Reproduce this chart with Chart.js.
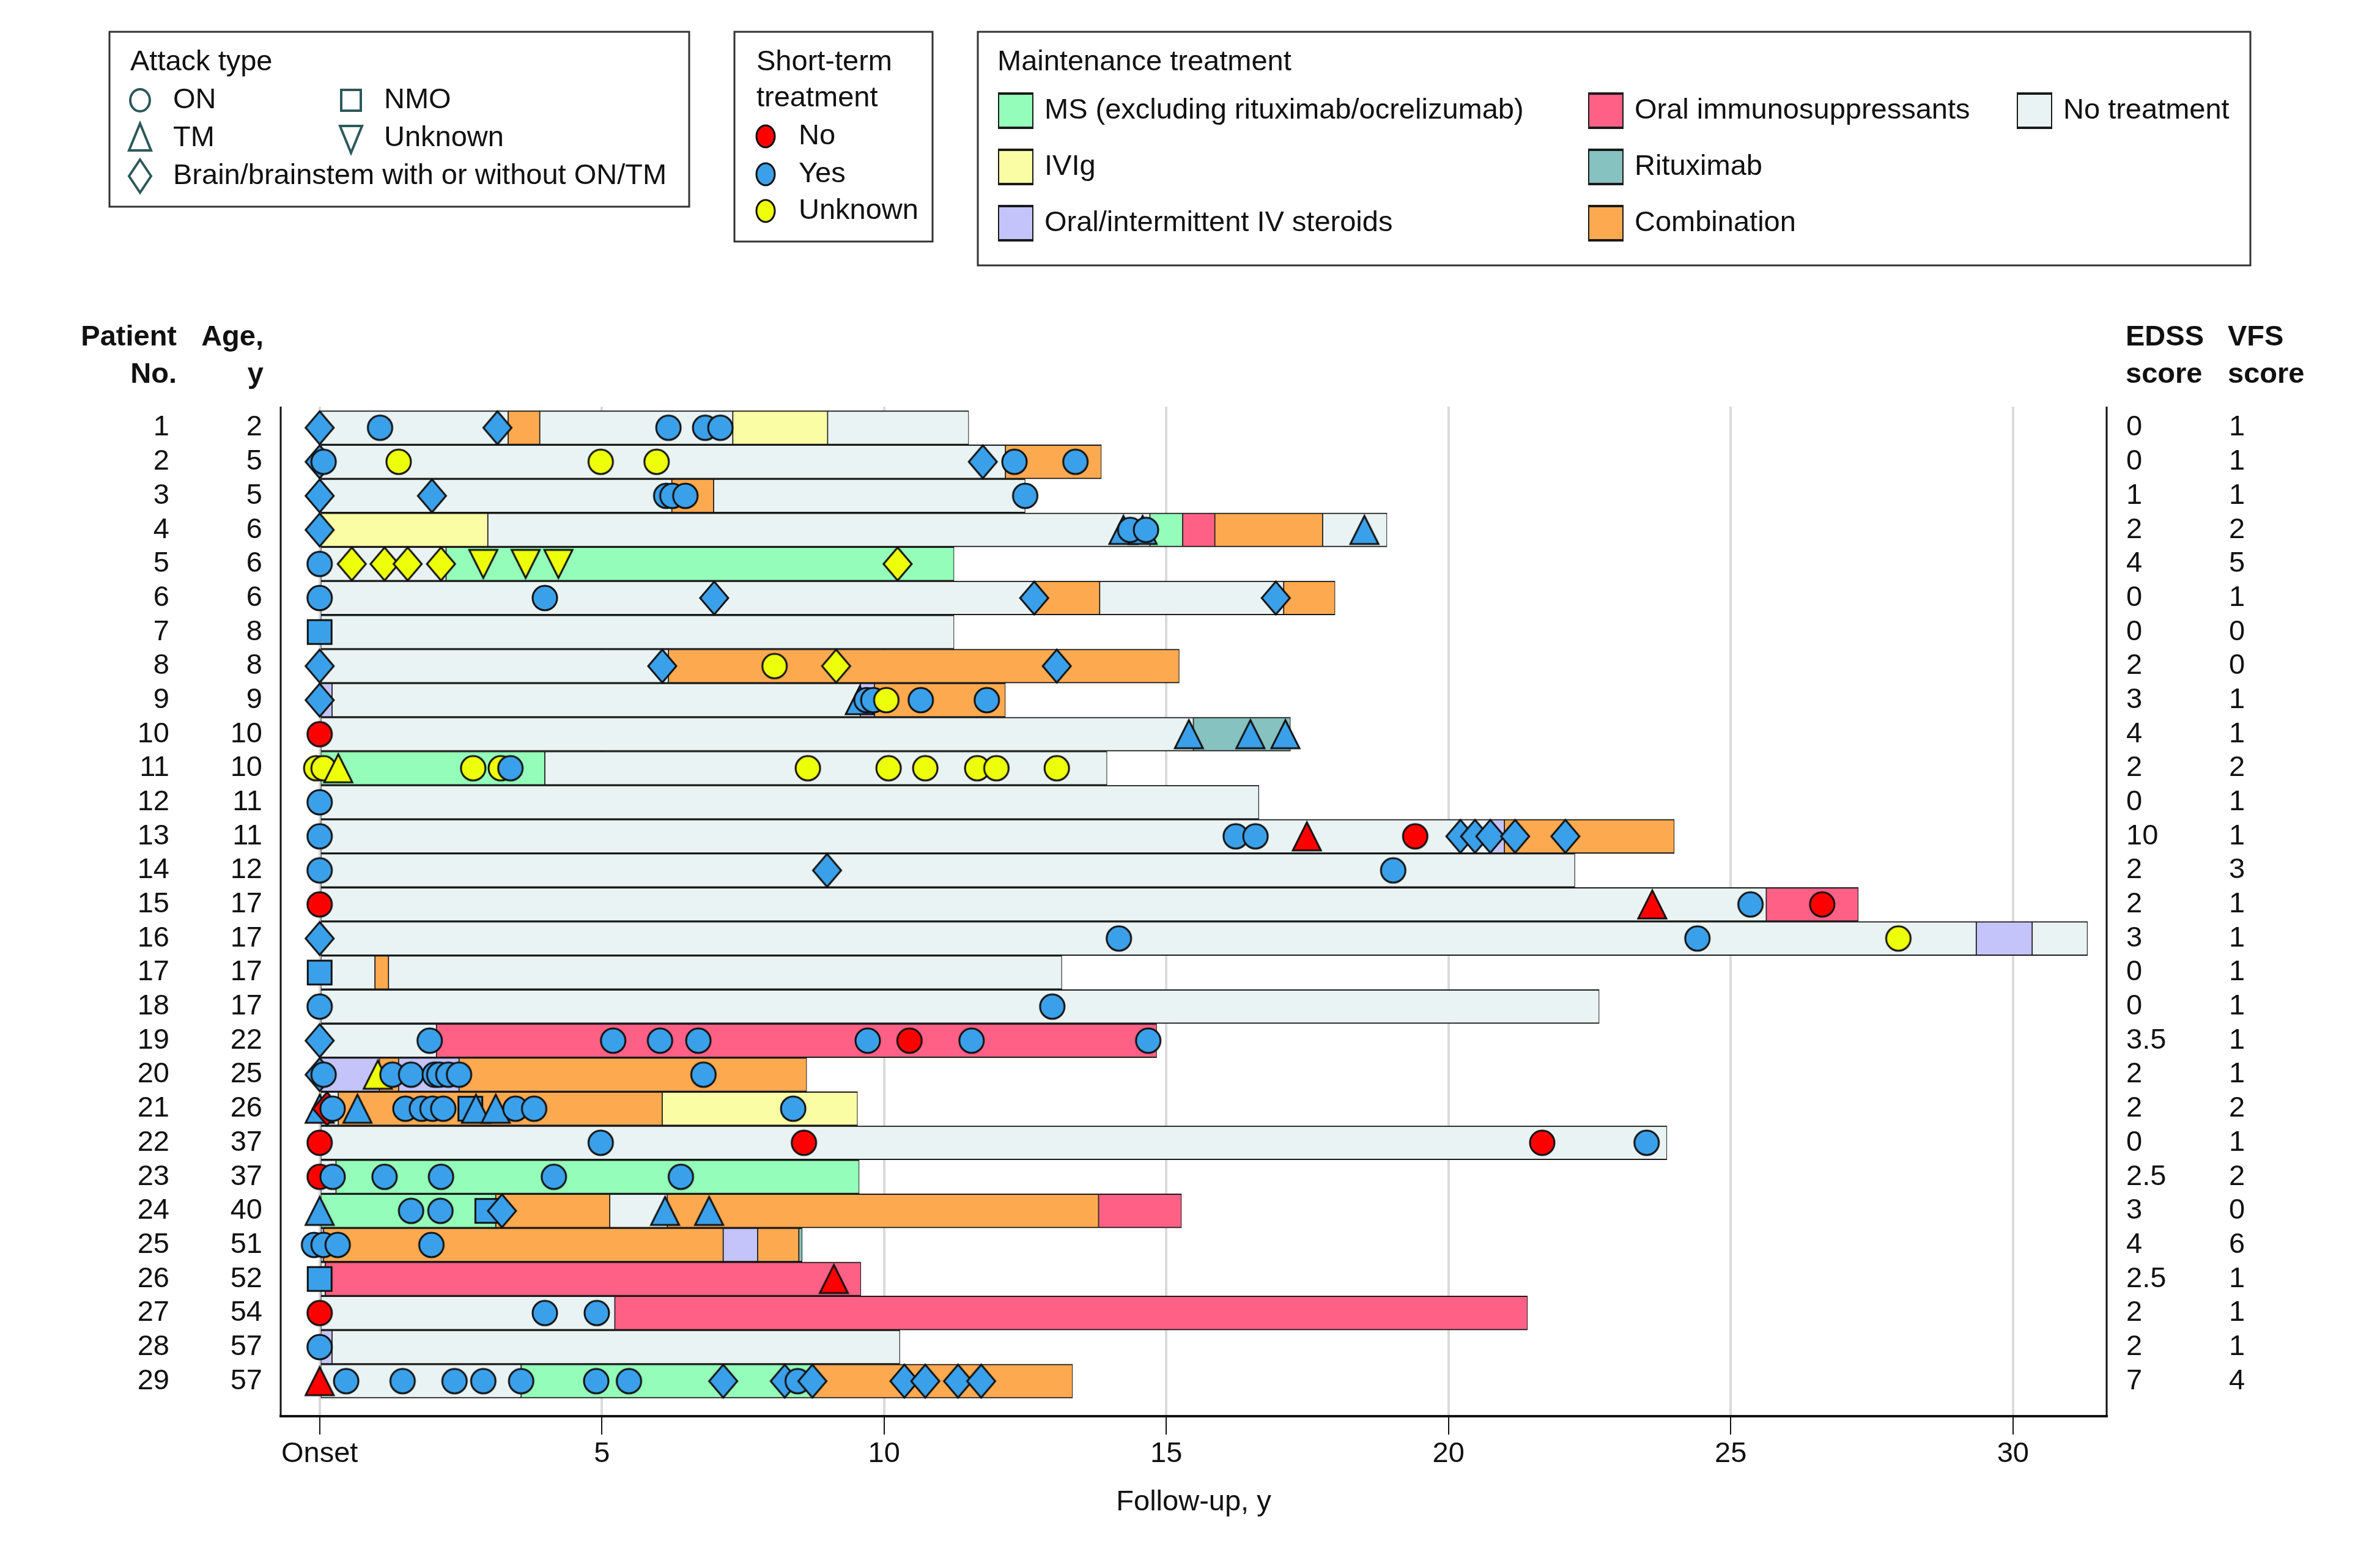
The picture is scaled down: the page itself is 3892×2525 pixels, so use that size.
<!DOCTYPE html>
<html>
<head>
<meta charset="utf-8">
<title>Attacks and treatment timeline</title>
<script src="https://cdn.jsdelivr.net/npm/chart.js@4.4.1/dist/chart.umd.min.js"></script>
<style>
  html, body { margin: 0; padding: 0; background: #fff; }
  #timeline { display: block; width: 3892px; height: 2525px; }
</style>
</head>
<body>
<canvas id="timeline" width="3892" height="2525"></canvas>
<script>
// rows of the timeline, top to bottom
const patientNo = [1, 2, 3, 4, 5, 6, 7, 8, 9, 10, 11, 12, 13, 14, 15, 16, 17, 18, 19, 20, 21, 22, 23, 24, 25, 26, 27, 28, 29];
const ageYears = [2, 5, 5, 6, 6, 6, 8, 8, 9, 10, 10, 11, 11, 12, 17, 17, 17, 17, 22, 25, 26, 37, 37, 40, 51, 52, 54, 57, 57];
const edssScore = ['0', '0', '1', '2', '4', '0', '0', '2', '3', '4', '2', '0', '10', '2', '2', '3', '0', '0', '3.5', '2', '2', '0', '2.5', '3', '4', '2.5', '2', '2', '7'];
const vfsScore = [1, 1, 1, 2, 5, 1, 0, 0, 1, 1, 2, 1, 1, 3, 1, 1, 1, 1, 1, 1, 2, 1, 2, 0, 6, 1, 1, 1, 4];

// follow-up axis ticks (years since onset)
const followUpTicks = [0, 5, 10, 15, 20, 25, 30];

// maintenance treatment periods: [patient, from, to, treatment]
const treatmentPeriods = [
  [1, 0, 3.34, 'NONE'], [1, 3.34, 3.90, 'COMBO'], [1, 3.90, 7.32, 'NONE'], [1, 7.32, 9.0, 'IVIG'], [1, 9.0, 11.5, 'NONE'],
  [2, 0, 12.15, 'NONE'], [2, 12.15, 13.85, 'COMBO'],
  [3, 0, 6.24, 'NONE'], [3, 6.24, 6.98, 'COMBO'], [3, 6.98, 12.5, 'NONE'],
  [4, 0, 2.98, 'IVIG'], [4, 2.98, 14.71, 'NONE'], [4, 14.71, 15.29, 'MS'], [4, 15.29, 15.86, 'ORAL'], [4, 15.86, 17.77, 'COMBO'], [4, 17.77, 18.91, 'NONE'],
  [5, 0, 2.24, 'NONE'], [5, 2.24, 11.24, 'MS'],
  [6, 0, 12.66, 'NONE'], [6, 12.66, 13.82, 'COMBO'], [6, 13.82, 17.08, 'NONE'], [6, 17.08, 17.99, 'COMBO'],
  [7, 0, 11.24, 'NONE'],
  [8, 0, 6.18, 'NONE'], [8, 6.18, 15.23, 'COMBO'],
  [9, 0, 0.22, 'STER'], [9, 0.22, 9.58, 'NONE'], [9, 9.58, 9.83, 'STER'], [9, 9.83, 12.15, 'COMBO'],
  [10, 0, 15.48, 'NONE'], [10, 15.48, 17.2, 'RITUX'],
  [11, 0, 3.99, 'MS'], [11, 3.99, 13.95, 'NONE'],
  [12, 0, 16.64, 'NONE'],
  [13, 0, 20.75, 'NONE'], [13, 20.75, 20.99, 'STER'], [13, 20.99, 24.0, 'COMBO'],
  [14, 0, 22.24, 'NONE'],
  [15, 0, 25.63, 'NONE'], [15, 25.63, 27.26, 'ORAL'],
  [16, 0, 29.35, 'NONE'], [16, 29.35, 30.34, 'STER'], [16, 30.34, 31.32, 'NONE'],
  [17, 0, 0.98, 'NONE'], [17, 0.98, 1.22, 'COMBO'], [17, 1.22, 13.15, 'NONE'],
  [18, 0, 22.67, 'NONE'],
  [19, 0, 2.07, 'NONE'], [19, 2.07, 14.83, 'ORAL'],
  [20, 0, 1.06, 'STER'], [20, 1.06, 1.40, 'COMBO'], [20, 1.40, 2.47, 'STER'], [20, 2.47, 8.63, 'COMBO'],
  [21, 0, 0.33, 'NONE'], [21, 0.33, 6.07, 'COMBO'], [21, 6.07, 9.53, 'IVIG'],
  [22, 0, 23.87, 'NONE'],
  [23, 0, 0.29, 'NONE'], [23, 0.29, 9.56, 'MS'],
  [24, 0, 3.12, 'MS'], [24, 3.12, 5.14, 'COMBO'], [24, 5.14, 6.16, 'NONE'], [24, 6.16, 13.8, 'COMBO'], [24, 13.8, 15.27, 'ORAL'],
  [25, 0, 0.07, 'STER'], [25, 0.07, 7.15, 'COMBO'], [25, 7.15, 7.76, 'STER'], [25, 7.76, 8.49, 'COMBO'], [25, 8.49, 8.55, 'RITUX'],
  [26, 0, 0.1, 'NONE'], [26, 0.1, 9.59, 'ORAL'],
  [27, 0, 5.23, 'NONE'], [27, 5.23, 21.4, 'ORAL'],
  [28, 0, 0.22, 'STER'], [28, 0.22, 10.28, 'NONE'],
  [29, 0, 3.57, 'NONE'], [29, 3.57, 8.73, 'MS'], [29, 8.73, 13.34, 'COMBO']
];

// attacks: [patient, years since onset, attack type, short-term treatment]
// attack type: ON, TM, NMO, UNK (unknown), BR (brain/brainstem)
// short-term treatment: N (no), Y (yes), U (unknown)
const attacks = [
  [1, 0, 'BR', 'Y'], [1, 1.07, 'ON', 'Y'], [1, 3.15, 'BR', 'Y'], [1, 6.18, 'ON', 'Y'], [1, 6.83, 'ON', 'Y'], [1, 7.1, 'ON', 'Y'],
  [2, 0, 'BR', 'Y'], [2, 0.07, 'ON', 'Y'], [2, 1.4, 'ON', 'U'], [2, 4.98, 'ON', 'U'], [2, 5.97, 'ON', 'U'], [2, 11.75, 'BR', 'Y'], [2, 12.31, 'ON', 'Y'], [2, 13.39, 'ON', 'Y'],
  [3, 0, 'BR', 'Y'], [3, 1.99, 'BR', 'Y'], [3, 6.14, 'ON', 'Y'], [3, 6.25, 'ON', 'Y'], [3, 6.48, 'ON', 'Y'], [3, 12.5, 'ON', 'Y'],
  [4, 0, 'BR', 'Y'], [4, 14.24, 'TM', 'Y'], [4, 14.58, 'TM', 'Y'], [4, 14.36, 'ON', 'Y'], [4, 14.64, 'ON', 'Y'], [4, 18.51, 'TM', 'Y'],
  [5, 0, 'ON', 'Y'], [5, 0.57, 'BR', 'U'], [5, 1.15, 'BR', 'U'], [5, 1.56, 'BR', 'U'], [5, 2.15, 'BR', 'U'], [5, 2.9, 'UNK', 'U'], [5, 3.65, 'UNK', 'U'], [5, 4.23, 'UNK', 'U'], [5, 10.24, 'BR', 'U'],
  [6, 0, 'ON', 'Y'], [6, 3.99, 'ON', 'Y'], [6, 6.99, 'BR', 'Y'], [6, 12.66, 'BR', 'Y'], [6, 16.94, 'BR', 'Y'],
  [7, 0, 'NMO', 'Y'],
  [8, 0, 'BR', 'Y'], [8, 6.07, 'BR', 'Y'], [8, 8.06, 'ON', 'U'], [8, 9.15, 'BR', 'U'], [8, 13.06, 'BR', 'Y'],
  [9, 0, 'BR', 'Y'], [9, 9.57, 'TM', 'Y'], [9, 9.69, 'ON', 'Y'], [9, 9.81, 'ON', 'Y'], [9, 10.04, 'ON', 'U'], [9, 10.65, 'ON', 'Y'], [9, 11.82, 'ON', 'Y'],
  [10, 0, 'ON', 'N'], [10, 15.4, 'TM', 'Y'], [10, 16.49, 'TM', 'Y'], [10, 17.11, 'TM', 'Y'],
  [11, -0.06, 'ON', 'U'], [11, 0.07, 'ON', 'U'], [11, 0.33, 'TM', 'U'], [11, 2.72, 'ON', 'U'], [11, 3.21, 'ON', 'U'], [11, 3.38, 'ON', 'Y'], [11, 8.65, 'ON', 'U'], [11, 10.08, 'ON', 'U'], [11, 10.73, 'ON', 'U'], [11, 11.65, 'ON', 'U'], [11, 11.99, 'ON', 'U'], [11, 13.06, 'ON', 'U'],
  [12, 0, 'ON', 'Y'],
  [13, 0, 'ON', 'Y'], [13, 16.23, 'ON', 'Y'], [13, 16.58, 'ON', 'Y'], [13, 17.49, 'TM', 'N'], [13, 19.41, 'ON', 'N'], [13, 20.21, 'BR', 'Y'], [13, 20.47, 'BR', 'Y'], [13, 20.74, 'BR', 'Y'], [13, 21.18, 'BR', 'Y'], [13, 22.07, 'BR', 'Y'],
  [14, 0, 'ON', 'Y'], [14, 8.99, 'BR', 'Y'], [14, 19.02, 'ON', 'Y'],
  [15, 0, 'ON', 'N'], [15, 23.61, 'TM', 'N'], [15, 25.35, 'ON', 'Y'], [15, 26.62, 'ON', 'N'],
  [16, 0, 'BR', 'Y'], [16, 14.16, 'ON', 'Y'], [16, 24.41, 'ON', 'Y'], [16, 27.97, 'ON', 'U'],
  [17, 0, 'NMO', 'Y'],
  [18, 0, 'ON', 'Y'], [18, 12.98, 'ON', 'Y'],
  [19, 0, 'BR', 'Y'], [19, 1.95, 'ON', 'Y'], [19, 5.2, 'ON', 'Y'], [19, 6.03, 'ON', 'Y'], [19, 6.71, 'ON', 'Y'], [19, 9.71, 'ON', 'Y'], [19, 10.45, 'ON', 'N'], [19, 11.55, 'ON', 'Y'], [19, 14.68, 'ON', 'Y'],
  [20, 0, 'BR', 'Y'], [20, 0.07, 'ON', 'Y'], [20, 1.03, 'TM', 'U'], [20, 1.29, 'ON', 'Y'], [20, 1.62, 'ON', 'Y'], [20, 2.04, 'ON', 'Y'], [20, 2.12, 'ON', 'Y'], [20, 2.28, 'ON', 'Y'], [20, 2.47, 'ON', 'Y'], [20, 6.8, 'ON', 'Y'],
  [21, 0, 'TM', 'Y'], [21, 0.13, 'BR', 'N'], [21, 0.23, 'ON', 'Y'], [21, 0.67, 'TM', 'Y'], [21, 1.52, 'ON', 'Y'], [21, 1.81, 'ON', 'Y'], [21, 2.0, 'ON', 'Y'], [21, 2.19, 'ON', 'Y'], [21, 2.67, 'NMO', 'Y'], [21, 2.77, 'TM', 'Y'], [21, 3.12, 'TM', 'Y'], [21, 3.47, 'ON', 'Y'], [21, 3.8, 'ON', 'Y'], [21, 8.39, 'ON', 'Y'],
  [22, 0, 'ON', 'N'], [22, 4.98, 'ON', 'Y'], [22, 8.58, 'ON', 'N'], [22, 21.66, 'ON', 'N'], [22, 23.51, 'ON', 'Y'],
  [23, 0, 'ON', 'N'], [23, 0.23, 'ON', 'Y'], [23, 1.15, 'ON', 'Y'], [23, 2.15, 'ON', 'Y'], [23, 4.15, 'ON', 'Y'], [23, 6.4, 'ON', 'Y'],
  [24, 0, 'TM', 'Y'], [24, 1.62, 'ON', 'Y'], [24, 2.14, 'ON', 'Y'], [24, 2.97, 'NMO', 'Y'], [24, 3.23, 'BR', 'Y'], [24, 6.12, 'TM', 'Y'], [24, 6.9, 'TM', 'Y'],
  [25, -0.1, 'ON', 'Y'], [25, 0.07, 'ON', 'Y'], [25, 0.32, 'ON', 'Y'], [25, 1.98, 'ON', 'Y'],
  [26, 0, 'NMO', 'Y'], [26, 9.11, 'TM', 'N'],
  [27, 0, 'ON', 'N'], [27, 3.99, 'ON', 'Y'], [27, 4.91, 'ON', 'Y'],
  [28, 0, 'ON', 'Y'],
  [29, 0, 'TM', 'N'], [29, 0.47, 'ON', 'Y'], [29, 1.47, 'ON', 'Y'], [29, 2.39, 'ON', 'Y'], [29, 2.9, 'ON', 'Y'], [29, 3.57, 'ON', 'Y'], [29, 4.9, 'ON', 'Y'], [29, 5.48, 'ON', 'Y'], [29, 7.15, 'BR', 'Y'], [29, 8.24, 'BR', 'Y'], [29, 8.47, 'ON', 'Y'], [29, 8.73, 'BR', 'Y'], [29, 10.36, 'BR', 'Y'], [29, 10.73, 'BR', 'Y'], [29, 11.31, 'BR', 'Y'], [29, 11.72, 'BR', 'Y']
];

// maintenance treatment categories
const treatmentKeys = ['MS', 'IVIG', 'STER', 'ORAL', 'RITUX', 'COMBO', 'NONE'];
const treatmentLabels = ['MS (excluding rituximab/ocrelizumab)', 'IVIg', 'Oral/intermittent IV steroids', 'Oral immunosuppressants', 'Rituximab', 'Combination', 'No treatment'];
const treatmentColors = ['#94fdb9', '#fafda4', '#c4c4fa', '#ff6085', '#86c2bf', '#fda94f', '#eaf3f3'];

const shortTermKeys = ['N', 'Y', 'U'];
const shortTermLabels = ['No', 'Yes', 'Unknown'];
const shortTermColors = ['#ff0000', '#3ba0ea', '#eeff0a'];

const FONT = '"Liberation Sans", Arial, sans-serif';
const INK = '#111';
function font(size, bold) {
  return (bold ? 'bold ' : '') + size + 'px ' + FONT;
}

// marker pictures used as point styles, one per attack type + colour
const markerCache = {};
function markerImage(shape, stKey) {
  const key = shape + stKey;
  if (markerCache[key]) return markerCache[key];
  const c = document.createElement('canvas');
  c.width = 60;
  c.height = 64;
  const g = c.getContext('2d');
  const cx = 30, cy = 32;
  g.fillStyle = shortTermColors[shortTermKeys.indexOf(stKey)];
  g.strokeStyle = INK;
  g.lineWidth = 3;
  g.beginPath();
  if (shape == 'ON') {
    g.arc(cx, cy, 20, 0, Math.PI * 2);
  } else if (shape == 'TM') {
    g.moveTo(cx, cy - 23); g.lineTo(cx + 23, cy + 23); g.lineTo(cx - 23, cy + 23); g.closePath();
  } else if (shape == 'UNK') {
    g.moveTo(cx - 23, cy - 23); g.lineTo(cx + 23, cy - 23); g.lineTo(cx, cy + 23); g.closePath();
  } else if (shape == 'NMO') {
    g.rect(cx - 19.5, cy - 19.5, 39, 39);
  } else {
    g.moveTo(cx, cy - 27); g.lineTo(cx + 23, cy); g.lineTo(cx, cy + 27); g.lineTo(cx - 23, cy); g.closePath();
  }
  g.fill();
  g.stroke();
  markerCache[key] = c;
  return c;
}

// one floating-bar dataset per treatment type
const barDatasets = treatmentKeys.map((code, i) => ({
  type: 'bar',
  label: treatmentLabels[i],
  indexAxis: 'y',
  grouped: false,
  order: 2,
  data: treatmentPeriods.filter(p => p[3] == code).map(p => ({ x: [p[1], p[2]], y: p[0] })),
  backgroundColor: treatmentColors[i],
  borderColor: '#1a1a1a',
  borderWidth: { top: 2, bottom: 2, left: 1.2, right: 1.2 },
  borderSkipped: false,
  barPercentage: 1,
  categoryPercentage: 1
}));

const attackDataset = {
  type: 'scatter',
  label: 'Attacks',
  indexAxis: 'x',
  order: 0,
  data: attacks.map(a => ({ x: a[1], y: a[0] })),
  pointStyle: attacks.map(a => markerImage(a[2], a[3])),
  pointRadius: 20,
  pointHoverRadius: 20
};

// outline symbols of the attack type legend
function outlineShape(ctx, shape, x, y) {
  ctx.beginPath();
  if (shape == 'ON') {
    ctx.ellipse(x, y, 16, 18, 0, 0, Math.PI * 2);
  } else if (shape == 'NMO') {
    ctx.rect(x - 16, y - 17, 32, 34);
  } else if (shape == 'TM') {
    ctx.moveTo(x, y - 24); ctx.lineTo(x + 18, y + 20); ctx.lineTo(x - 18, y + 20); ctx.closePath();
  } else if (shape == 'UNK') {
    ctx.moveTo(x - 18, y - 20); ctx.lineTo(x + 18, y - 20); ctx.lineTo(x, y + 24); ctx.closePath();
  } else {
    ctx.moveTo(x, y - 27); ctx.lineTo(x + 18, y); ctx.lineTo(x, y + 27); ctx.lineTo(x - 18, y); ctx.closePath();
  }
  ctx.stroke();
}

function swatch(ctx, color, x, y) {
  const w = 58, h = 60;
  ctx.fillStyle = color;
  ctx.fillRect(x, y - h / 2, w, h);
  ctx.fillStyle = '#1a1a1a';
  ctx.fillRect(x, y - h / 2, w, 4);
  ctx.fillRect(x, y + h / 2 - 4, w, 4);
  ctx.fillRect(x, y - h / 2, 2, h);
  ctx.fillRect(x + w - 2, y - h / 2, 2, h);
}

const legendBoxes = {
  id: 'legendBoxes',
  afterDraw(chart) {
    const ctx = chart.ctx;
    ctx.save();
    ctx.strokeStyle = '#333';
    ctx.lineWidth = 3;
    ctx.strokeRect(179, 52, 948, 286);
    ctx.strokeRect(1201, 52, 324, 343);
    ctx.strokeRect(1599, 52, 2081, 382);

    ctx.fillStyle = INK;
    ctx.textBaseline = 'middle';
    ctx.textAlign = 'left';
    ctx.font = font(47, false);

    // attack type
    ctx.fillText('Attack type', 213, 102);
    const attackLegend = [['ON', 'ON', 229, 164], ['NMO', 'NMO', 574, 164], ['TM', 'TM', 229, 226], ['UNK', 'Unknown', 574, 226], ['BR', 'Brain/brainstem with or without ON/TM', 229, 288]];
    ctx.strokeStyle = '#2d5959';
    ctx.lineWidth = 4;
    attackLegend.forEach(item => {
      outlineShape(ctx, item[0], item[2], item[3]);
      ctx.fillText(item[1], item[2] + 54, item[3]);
    });

    // short-term treatment
    ctx.fillText('Short-term', 1237, 102);
    ctx.fillText('treatment', 1237, 161);
    ctx.strokeStyle = INK;
    ctx.lineWidth = 3;
    [223, 285, 345].forEach((y, i) => {
      ctx.beginPath();
      ctx.ellipse(1252, y, 15, 18, 0, 0, Math.PI * 2);
      ctx.fillStyle = shortTermColors[i];
      ctx.fill();
      ctx.stroke();
      ctx.fillStyle = INK;
      ctx.fillText(shortTermLabels[i], 1306, y);
    });

    // maintenance treatment
    ctx.fillText('Maintenance treatment', 1631, 102);
    const colX = [1632, 2597, 3298];
    const rowY = [181, 273, 365];
    const slots = [[0, 0], [0, 1], [0, 2], [1, 0], [1, 1], [1, 2], [2, 0]];
    slots.forEach((s, i) => {
      swatch(ctx, treatmentColors[i], colX[s[0]], rowY[s[1]]);
      ctx.fillStyle = INK;
      ctx.fillText(treatmentLabels[i], colX[s[0]] + 76, rowY[s[1]]);
    });
    ctx.restore();
  }
};

// patient number, age and score columns beside the plot
const sideColumns = {
  id: 'sideColumns',
  afterDraw(chart) {
    const ctx = chart.ctx;
    const yScale = chart.scales.y;
    const area = chart.chartArea;
    ctx.save();
    ctx.strokeStyle = INK;
    ctx.lineWidth = 3;
    ctx.beginPath();
    ctx.moveTo(area.left, area.top); ctx.lineTo(area.left, area.bottom);
    ctx.moveTo(area.right, area.top); ctx.lineTo(area.right, area.bottom);
    ctx.stroke();

    ctx.fillStyle = INK;
    ctx.textBaseline = 'middle';
    ctx.font = font(47, true);
    ctx.textAlign = 'right';
    ctx.fillText('Patient', 289, 552);
    ctx.fillText('No.', 289, 613);
    ctx.fillText('Age,', 431, 552);
    ctx.fillText('y', 431, 613);
    ctx.textAlign = 'left';
    ctx.fillText('EDSS', 3476, 552);
    ctx.fillText('score', 3476, 613);
    ctx.fillText('VFS', 3643, 552);
    ctx.fillText('score', 3643, 613);

    ctx.font = font(47, false);
    patientNo.forEach((p, i) => {
      const y = yScale.getPixelForValue(p);
      ctx.textAlign = 'right';
      ctx.fillText(String(p), 277, y);
      ctx.fillText(String(ageYears[i]), 429, y);
      ctx.textAlign = 'left';
      ctx.fillText(edssScore[i], 3477, y);
      ctx.fillText(String(vfsScore[i]), 3645, y);
    });
    ctx.restore();
  }
};

const ctx = document.getElementById('timeline');
const myChart = new Chart(ctx, {
  type: 'bar',
  data: {
    datasets: [attackDataset].concat(barDatasets)
  },
  options: {
    responsive: false,
    animation: false,
    devicePixelRatio: 1,
    events: [],
    indexAxis: 'y',
    layout: { padding: { left: 459, right: 447, top: 665, bottom: 0 } },
    plugins: {
      legend: { display: false },
      tooltip: { enabled: false }
    },
    scales: {
      x: {
        type: 'linear',
        min: -0.69,
        max: 31.66,
        offset: false,
        afterBuildTicks: (scale) => {
          scale.ticks = followUpTicks.map(v => ({ value: v }));
        },
        afterFit: (scale) => {
          scale.height = 209;
        },
        ticks: {
          callback: (v) => v == 0 ? 'Onset' : String(v),
          autoSkip: false,
          maxRotation: 0,
          padding: 4,
          color: INK,
          font: { family: FONT, size: 47 }
        },
        grid: {
          offset: false,
          color: '#dadada',
          lineWidth: 4,
          drawTicks: true,
          tickLength: 30,
          tickColor: INK,
          tickWidth: 2
        },
        border: { display: true, color: INK, width: 4 },
        title: {
          display: true,
          text: 'Follow-up, y',
          color: INK,
          font: { family: FONT, size: 47 },
          padding: { top: 0, bottom: 40 }
        }
      },
      y: {
        type: 'linear',
        display: false,
        reverse: true,
        min: 0.38,
        max: 30.03,
        offset: false,
        grid: { display: false, offset: false },
        ticks: { stepSize: 1, includeBounds: false }
      }
    }
  },
  plugins: [legendBoxes, sideColumns]
});
</script>
</body>
</html>
